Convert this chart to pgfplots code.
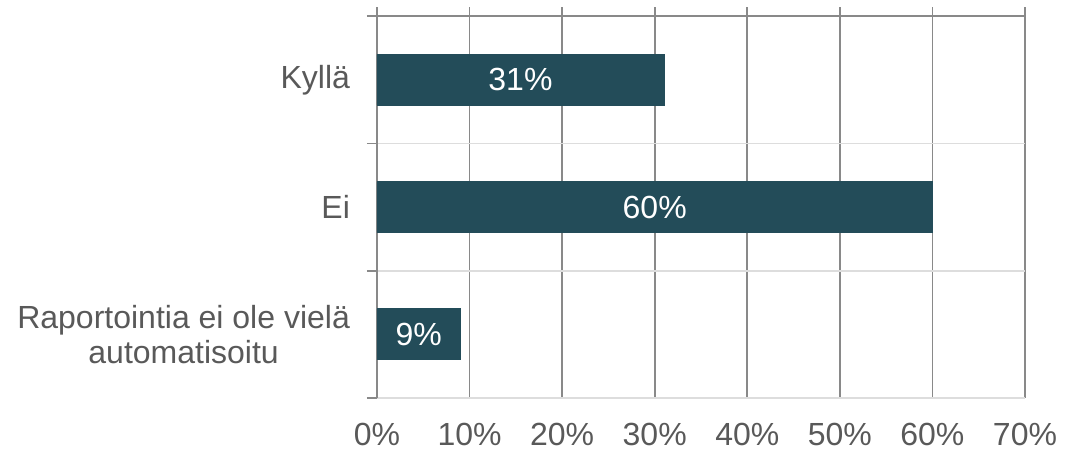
\documentclass[border=0pt]{standalone}
\usepackage{pgfplots}
\pgfplotsset{compat=1.18}
\usepackage{fontspec}
\setmainfont{Liberation Sans}
\definecolor{barteal}{HTML}{234C59}
\definecolor{txtgray}{HTML}{595959}
\definecolor{gridgray}{HTML}{898989}
\definecolor{lightgrid}{HTML}{DDDDDD}
\begin{document}
\begin{tikzpicture}
  \useasboundingbox (-188.5pt,-28.5pt) rectangle (344.5pt,199pt);
  \begin{axis}[
      scale only axis,
      width=324pt, height=195.4pt,
      xbar,
      bar width=0.4,
      xmin=0, xmax=70,
      ymin=-0.5, ymax=2.57,
      xtick={0,10,...,70},
      xticklabel={\pgfmathprintnumber{\tick}\%},
      /pgf/number format/assume math mode=true,
      xmajorgrids,
      major grid style={gridgray, line width=0.8pt},
      ytick={0,1,2},
      yticklabels={{Raportointia ei ole vielä\\automatisoitu},Ei,Kyllä},
      minor ytick={-0.5,0.5,1.5,2.5},
      yminorgrids,
      minor grid style={lightgrid, line width=0.8pt},
      major tick length=0pt,
      minor tick length=5pt,
      tick align=outside,
      tick style={gridgray, line width=0.8pt},
      axis x line*=bottom,
      x axis line style={draw=none},
      axis y line*=left,
      y axis line style={gridgray, line width=0.8pt, -},
      tick label style={font=\fontsize{16}{17.5}\selectfont, text=txtgray},
      yticklabel style={align=center, xshift=-10pt},
      xticklabel style={yshift=-9pt},
      nodes near coords={\pgfmathprintnumber{\pgfplotspointmeta}\%},
      visualization depends on=rawx \as \myx,
      every node near coord/.append style={
        anchor=center, text=white,
        font=\fontsize{16}{17.5}\selectfont,
        shift={(axis direction cs:-\myx/2,0)}},
      clip=false,
    ]
    \addplot[fill=barteal, draw=barteal] coordinates {
      (9,0)
      (60,1)
      (31,2)
    };
    \draw[gridgray, line width=0.8pt] (axis cs:0,2.5) -- (axis cs:70,2.5);
  \end{axis}
\end{tikzpicture}
\end{document}
